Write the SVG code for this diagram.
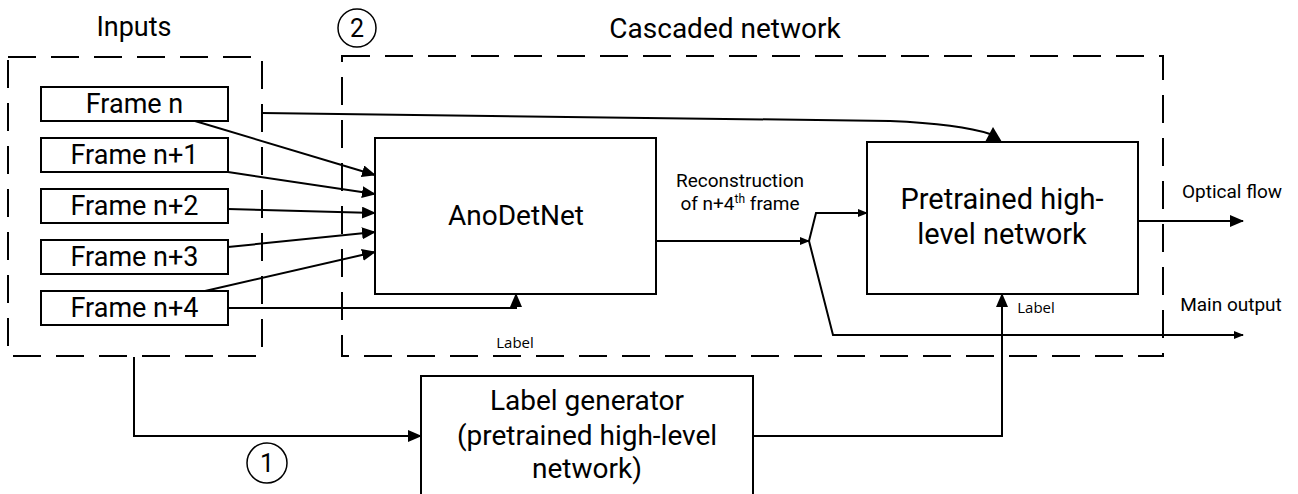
<svg xmlns="http://www.w3.org/2000/svg" width="1298" height="494" viewBox="0 0 1298 494">
<style>
.box{fill:#fff;stroke:#000;stroke-width:2}
.dash{fill:none;stroke:#000;stroke-width:2;stroke-dasharray:28 15}
.ln{fill:none;stroke:#000;stroke-width:2}
.t{font-family:Roboto,"Liberation Sans",sans-serif;fill:#000;text-anchor:middle}
.s{font-family:"Open Sans","Noto Sans",sans-serif;fill:#000;text-anchor:middle}
</style>
<defs>
<marker id="ab" viewBox="0 0 14 12" refX="13" refY="6" markerWidth="14" markerHeight="12" markerUnits="userSpaceOnUse" orient="auto"><path d="M0,0 L14,6 L0,12 z" fill="#000"/></marker>
<marker id="as" viewBox="0 0 10 8" refX="9" refY="4" markerWidth="10" markerHeight="8" markerUnits="userSpaceOnUse" orient="auto"><path d="M0,0 L10,4 L0,8 z" fill="#000"/></marker>
</defs>
<rect width="1298" height="494" fill="#fff"/>

<g id="inputs-group">
<rect class="dash" x="8" y="57" width="254" height="299"/>
<text class="t" x="134" y="36" font-size="27">Inputs</text>
</g>
<g id="cascaded-group">
<rect class="dash" x="342" y="56" width="821" height="300"/>
<text class="t" x="725" y="38" font-size="28">Cascaded network</text>
<circle cx="357" cy="28" r="19" fill="none" stroke="#000" stroke-width="1.5"/>
<text class="t" x="357" y="37" font-size="25">2</text>
</g>

<g id="frame-n"><rect class="box" x="41" y="87" width="187" height="34"/><text class="t" x="134.5" y="113" font-size="27">Frame n</text></g>
<g id="frame-n1"><rect class="box" x="41" y="138" width="187" height="34"/><text class="t" x="134.5" y="164" font-size="27">Frame n+1</text></g>
<g id="frame-n2"><rect class="box" x="41" y="189" width="187" height="34"/><text class="t" x="134.5" y="215" font-size="27">Frame n+2</text></g>
<g id="frame-n3"><rect class="box" x="41" y="240" width="187" height="34"/><text class="t" x="134.5" y="266" font-size="27">Frame n+3</text></g>
<g id="frame-n4"><rect class="box" x="41" y="291" width="187" height="34"/><text class="t" x="134.5" y="317" font-size="27">Frame n+4</text></g>

<g id="anodetnet"><rect class="box" x="375" y="138" width="281" height="156"/><text class="t" x="516" y="225" font-size="28">AnoDetNet</text></g>

<g id="pretrained"><rect class="box" x="867" y="142" width="271" height="152"/>
<text class="t" x="1002" y="209" font-size="29">Pretrained high-</text>
<text class="t" x="1002" y="244" font-size="29">level network</text></g>

<g id="label-generator"><rect class="box" x="421" y="376" width="332" height="130"/>
<text class="t" x="587" y="410" font-size="28">Label generator</text>
<text class="t" x="587" y="445" font-size="28">(pretrained high-level</text>
<text class="t" x="587" y="478" font-size="28">network)</text></g>

<g id="step1"><circle cx="267" cy="463" r="20" fill="none" stroke="#000" stroke-width="1.5"/><text class="t" x="267" y="472" font-size="25">1</text></g>

<g id="connectors">
<path class="ln" d="M195,121 L375,175" marker-end="url(#ab)"/>
<path class="ln" d="M228,172 L375,194" marker-end="url(#ab)"/>
<path class="ln" d="M228,209 L375,213" marker-end="url(#ab)"/>
<path class="ln" d="M228,247 L375,232" marker-end="url(#ab)"/>
<path class="ln" d="M205,291 L375,252" marker-end="url(#ab)"/>
<path class="ln" d="M228,308 L516,308 L516,294" marker-end="url(#ab)"/>
<path class="ln" d="M262,113 L890,121 Q960,124 990,134"/>
<polygon points="993,127 985,142 1002,142" fill="#000"/>
<path class="ln" d="M656,241 L809,241" marker-end="url(#as)"/>
<path class="ln" d="M809,241 L816,213 L867,213" marker-end="url(#as)"/>
<path class="ln" d="M809,241 L833,335 L1243,335" marker-end="url(#as)"/>
<path class="ln" d="M1138,221 L1243,221" marker-end="url(#ab)"/>
<path class="ln" d="M134,357 L134,436 L421,436" marker-end="url(#ab)"/>
<path class="ln" d="M753,436 L1002,436 L1002,294" marker-end="url(#ab)"/>
</g>

<g id="labels">
<text class="t" x="740" y="187" font-size="19">Reconstruction</text>
<text class="t" x="740" y="210" font-size="19">of n+4<tspan font-size="12" dy="-7">th</tspan><tspan dy="7"> frame</tspan></text>
<text class="s" x="515" y="348" font-size="15">Label</text>
<text class="s" x="1036" y="313" font-size="15">Label</text>
<text class="t" x="1232" y="198" font-size="19">Optical flow</text>
<text class="t" x="1231" y="311" font-size="19">Main output</text>
</g>
</svg>
